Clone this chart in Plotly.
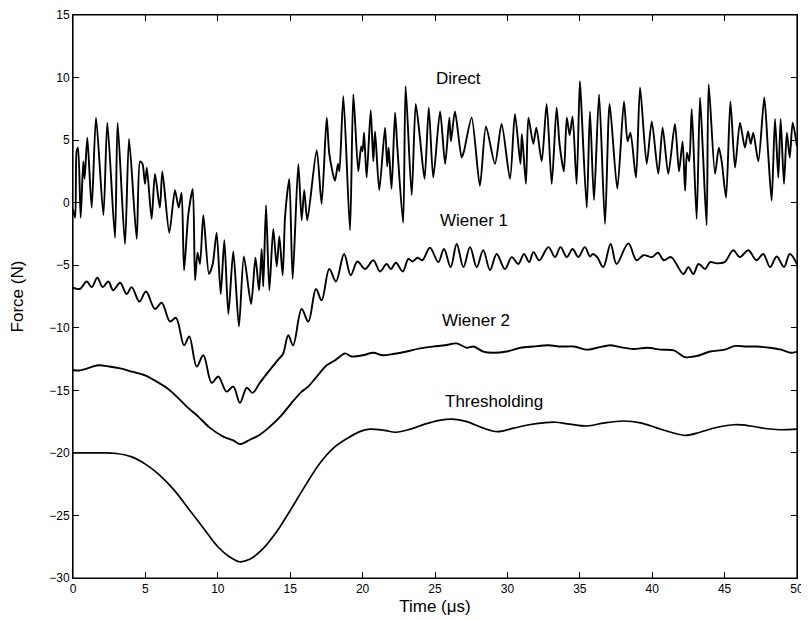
import plotly.graph_objects as go

# ---- Direct (noisy) ----
direct_t = [0, 0.15, 0.25, 0.35, 0.53, 0.71, 0.8, 0.99, 1.29, 1.59, 2.1, 2.37, 2.9, 3.08, 3.59, 3.87,
            4.4, 4.63, 4.8, 4.97, 5.1, 5.43, 5.66, 6.0, 6.17, 6.65, 7.04, 7.3, 7.5, 7.67, 7.96, 8.27,
            8.43, 8.6, 8.77, 9.0, 9.39, 9.65, 9.92, 10.2, 10.45, 10.73, 11.07, 11.46, 11.8, 12.3, 12.6,
            12.85, 13.03, 13.14, 13.33, 13.56, 13.83, 14.07, 14.25, 14.48, 14.64, 14.8, 14.94, 15.17,
            15.56, 15.79, 15.97, 16.18, 16.83, 17.17, 17.52, 17.7, 18.09, 18.3, 18.4, 18.67, 19.13,
            19.36, 19.7, 19.9, 20.0, 20.1, 20.28, 20.56, 20.74, 20.86, 21.15, 21.55, 21.7, 21.8, 22.0,
            22.24, 22.4, 22.8, 22.97, 23.39, 23.67, 23.95, 24.28, 24.57, 24.88, 25.35, 25.7, 25.99,
            26.1, 26.38, 26.84, 27.0, 27.53, 28.1, 28.52, 29.14, 29.6, 30.18, 30.52, 30.9, 31.0, 31.28,
            31.45, 31.79, 32.0, 32.37, 32.71, 33.06, 33.4, 33.6, 33.9, 34.1, 34.3, 34.5, 34.78, 35.0,
            35.1, 35.48, 35.7, 35.98, 36.33, 36.74, 37.06, 37.59, 38.05, 38.3, 38.5, 38.88, 39.16,
            39.62, 39.97, 40.42, 40.72, 41.11, 41.57, 41.85, 42.1, 42.27, 42.4, 42.56, 42.73, 43.07,
            43.3, 43.5, 43.76, 43.9, 44.34, 44.6, 44.8, 45.1, 45.4, 45.72, 46.06, 46.4, 46.62, 46.8,
            46.98, 47.33, 47.74, 48.0, 48.25, 48.48, 48.71, 48.87, 49.1, 49.3, 49.5, 49.7, 50.0]
direct_f = [-0.5, -1.2, 4.1, 4.4, -1.2, 3.3, 1.9, 5.2, -0.4, 6.8, -1.0, 6.4, -2.8, 6.4, -3.3, 5.1,
            -2.9, 3.3, 3.1, 1.5, 2.8, -1.3, 2.3, -0.4, 2.5, -2.4, 1.0, -0.4, 0.8, -5.4, -1.0, 1.1,
            -6.2, -4.0, -4.9, -1.0, -5.7, -4.9, -2.4, -7.3, -3.0, -8.9, -3.9, -9.9, -4.3, -8.1, -4.4,
            -7.0, -3.7, -6.7, -0.2, -7.0, -2.1, -5.1, -2.7, -5.8, -1.2, 0.8, 1.9, -6.1,
            3.1, -1.4, 1.0, -1.4, 4.2, -0.1, 6.8, 3.9, 1.75, 3.1, 2.5, 8.5, -2.2,
            8.65, 2.5, 4.5, 4.1, 5.6, 2.0, 7.4, 3.3, 5.7, 1.0, 6.0, 2.9, 4.4, 1.1,
            7.2, 4.4, -1.6, 9.3, 0.6, 7.9, 5.3, 1.9, 7.6, 2.0, 7.3, 3.1, 6.8,
            4.9, 7.3, 3.6, 4.1, 6.8, 1.35, 6.1, 3.1, 6.3, 1.9, 7.1, 3.1, 5.5, 1.5,
            6.8, 4.7, 6.0, 3.3, 7.9, 1.5, 7.6, 4.7, 2.5, 6.8, 5.4, 6.9, 1.5, 9.7,
            7.9, -0.4, 7.3, 0.2, 8.65, -1.7, 7.9, 1.1, 8.1, 4.9, 5.6, 2.0, 9.2,
            3.1, 6.5, 2.3, 6.0, 2.3, 6.3, 2.5, 4.9, 0.96, 4.0, 3.3, 7.5, -1.3,
            8.4, 4.1, -1.8, 9.45, 2.3, 4.4, 3.3, 0.4, 8.1, 2.8, 6.4, 4.4, 5.7, 4.7,
            5.6, 3.3, 8.4, 4.1, 0.16, 6.7, 2.0, 6.7, 1.5, 5.6, 3.6, 6.4, 4.5]

# ---- Wiener 1 ----
w1_t = [0, 0.47, 0.95, 1.29, 1.68, 2.05, 2.44, 2.78, 3.25, 3.7, 4.05, 4.58, 5.04, 5.66, 6.12, 6.7,
        7.11, 7.67, 8.03, 8.54, 9.0, 9.58, 10.04, 10.6, 11.07, 11.53, 12.0, 12.4, 12.9, 13.5, 14.2,
        14.5, 14.87, 15.2, 15.79, 16.25, 16.78, 17.17, 17.7, 18.16, 18.72, 19.18, 19.64, 20.17,
        20.74, 21.2, 21.66, 21.95, 22.3, 22.77, 23.16, 23.45, 23.8, 24.13, 24.65, 25.23, 25.62,
        26.08, 26.5, 26.96, 27.42, 27.88, 28.33, 28.8, 29.26, 29.83, 30.3, 30.75, 31.15, 31.5,
        31.8, 32.2, 32.83, 33.29, 33.67, 34.1, 34.5, 34.9, 35.35, 35.7, 35.9, 36.2, 36.62, 37.13,
        37.54, 38.35, 38.92, 39.4, 40.0, 40.4, 40.8, 41.3, 42.15, 42.5, 42.84, 43.2, 43.65, 44.0,
        44.45, 45.0, 45.6, 46.05, 46.64, 47.2, 47.67, 48.14, 48.6, 49.1, 49.5, 50.0]
w1_f = [-6.8, -6.9, -6.3, -6.75, -6.0, -6.75, -6.3, -7.0, -6.4, -7.3, -6.75, -7.9, -7.1, -8.5, -8.0, -9.5,
        -9.2, -11.4, -10.7, -13.1, -12.2, -14.4, -13.9, -15.1, -14.7, -16.0, -14.8, -15.2, -14.4, -13.5, -12.5,
        -12.1, -10.6, -11.4, -8.5, -9.5, -6.9, -7.8, -5.3, -6.3, -4.1, -5.8, -4.7, -5.3,
        -4.6, -5.5, -4.9, -5.3, -4.8, -5.5, -4.5, -4.7, -4.4, -4.6, -3.6, -4.75, -3.7,
        -5.15, -3.3, -5.15, -3.55, -5.15, -3.8, -5.4, -4.1, -5.3, -4.35, -4.9, -4.1, -4.75,
        -3.95, -4.6, -3.55, -4.35, -3.55, -4.35, -3.7, -4.35, -3.55, -4.3, -4.1, -4.35, -5.15, -3.3,
        -4.9, -3.25, -4.6, -4.2, -4.35, -4.0, -4.6, -4.35, -5.7, -5.15, -5.7, -4.9, -5.3, -4.75,
        -4.85, -4.75, -3.8, -4.35, -3.8, -4.6, -4.1, -5.15, -4.3, -5.15, -4.1, -4.9]

# ---- Wiener 2 ----
w2_t = [0, 0.5, 1.75, 2.5, 3.25, 4.05, 4.97, 5.78, 6.47, 7.16, 7.85, 8.65, 9.46, 10.38, 11.07, 11.53,
        12.22, 12.9, 13.6, 14.4, 15.1, 15.79, 16.25, 16.83, 17.52, 18.1, 18.78, 19.25, 20.0, 20.74,
        21.4, 22.1, 23.04, 23.96, 24.9, 25.7, 26.5, 27.2, 27.65, 28.33, 29.0, 29.95, 30.9, 31.8,
        32.83, 33.67, 34.6, 35.5, 36.2, 37.09, 37.8, 38.7, 39.65, 40.6, 41.5, 42.27, 43.1, 44.0,
        45.0, 45.72, 46.5, 47.2, 48.15, 48.9, 49.6, 50.0]
w2_f = [-13.4, -13.4, -13.0, -13.1, -13.25, -13.5, -13.8, -14.3, -14.8, -15.5, -16.3, -17.1, -18.0, -18.7, -19.0, -19.3,
        -18.95, -18.55, -17.9, -17.0, -16.0, -15.1, -14.7, -13.9, -13.0, -12.6, -12.05, -12.3, -12.2, -12.0,
        -12.2, -12.1, -11.9, -11.65, -11.5, -11.4, -11.25, -11.6, -11.5, -11.9, -12.0, -11.9, -11.6, -11.5,
        -11.4, -11.5, -11.5, -11.75, -11.6, -11.4, -11.55, -11.7, -11.6, -11.75, -11.8, -12.35, -12.25, -11.9,
        -11.75, -11.45, -11.5, -11.5, -11.6, -11.75, -12.0, -11.9]

# ---- Thresholding ----
th_t = [0, 1, 2, 3, 4, 5, 6, 7, 8, 9, 10, 10.8, 11.5, 12.2, 13, 14, 15, 16, 17, 18, 19, 19.8, 20.5,
        21.5, 22.3, 23.3, 24.3, 25.3, 26.2, 27.2, 28.3, 29.3, 30.5, 31.5, 32.5, 33.3, 34.3, 35.5,
        36.7, 38.0, 39.2, 40.3, 41.3, 42.3, 43.3, 44.5, 45.7, 46.8, 47.8, 48.8, 50.0]
th_f = [-20.0, -20.0, -20.0, -20.05, -20.3, -20.9, -21.8, -23.0, -24.5, -26.0, -27.5, -28.3, -28.7, -28.5,
        -27.8, -26.4, -24.6, -22.7, -20.9, -19.6, -18.8, -18.3, -18.1, -18.2, -18.35, -18.1, -17.7, -17.4,
        -17.3, -17.5, -18.0, -18.3, -18.0, -17.75, -17.6, -17.55, -17.7, -17.85, -17.6, -17.45, -17.6,
        -18.0, -18.35, -18.6, -18.35, -17.95, -17.75, -17.85, -18.05, -18.15, -18.1]

labels = ["Direct", "Wiener 1", "Wiener 2", "Thresholding"]
label_t = [26.6, 27.7, 27.8, 29.1]
label_f = [9.9, -1.45, -9.4, -15.9]

FONT = "Liberation Sans, Arial, Helvetica"

fig = go.Figure()
for tt, ff, w, sm in [(direct_t, direct_f, 1.9, 0.7), (w1_t, w1_f, 1.9, 1.0),
                      (w2_t, w2_f, 1.9, 0.8), (th_t, th_f, 1.7, 1.0)]:
    fig.add_trace(go.Scatter(x=tt, y=ff, mode="lines",
                             line=dict(color="black", width=w, shape="spline", smoothing=sm),
                             showlegend=False, hoverinfo="skip"))

for s, x, y in zip(labels, label_t, label_f):
    fig.add_annotation(x=x, y=y, text=s, showarrow=False,
                       font=dict(family=FONT, size=17, color="black"))

# plot frame (box)
fig.add_shape(type="rect", xref="paper", yref="paper", x0=0, x1=1, y0=0, y1=1,
              line=dict(color="black", width=1.2), layer="above")

axis_common = dict(showline=True, linecolor="black", linewidth=1, mirror="ticks",
                   ticks="inside", ticklen=6, tickcolor="black", showgrid=False, zeroline=False,
                   automargin=False, ticklabeloverflow="allow",
                   tickfont=dict(family=FONT, size=12, color="black"))
fig.update_xaxes(range=[0, 50], dtick=5, title=dict(text="Time (μs)", standoff=4,
                 font=dict(family=FONT, size=17, color="black")), **axis_common)
fig.update_yaxes(range=[-30, 15], dtick=5, title=dict(text="Force (N)", standoff=22,
                 font=dict(family=FONT, size=17, color="black")), **axis_common)

# page body adds an 8px offset; size chosen so the page fits the 809x620 window
fig.update_layout(width=801, height=612, margin=dict(l=65, r=12, t=7, b=42),
                  plot_bgcolor="white", paper_bgcolor="white")
fig.write_html("out.html")
